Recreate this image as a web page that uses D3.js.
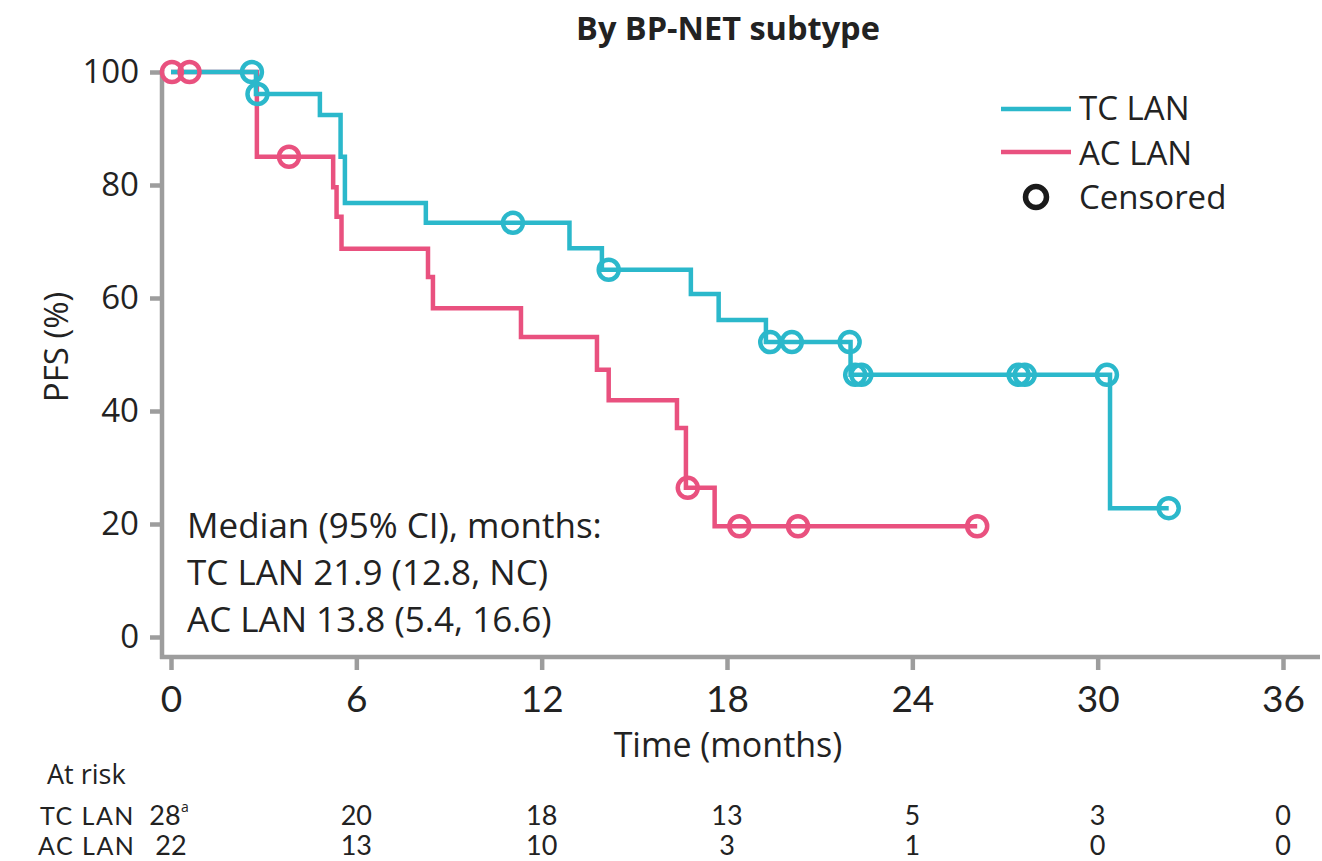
<!DOCTYPE html>
<html>
<head>
<meta charset="utf-8">
<script src="https://cdn.jsdelivr.net/npm/d3@7"></script>
<style>
  body { margin: 0; background: #fff; }
  text { font-family: "Open Sans", sans-serif; fill: #222; }
  .narrow { font-family: Lato, sans-serif; }
</style>
</head>
<body>
<script>
const WIDTH = 1322;
const HEIGHT = 861;

// tick values
const xTicks = [0, 6, 12, 18, 24, 30, 36];
const yTicks = [0, 20, 40, 60, 80, 100];

// TC LAN step curve (months, PFS %)
const tcTimes = [0, 2.75, 4.82, 5.49, 5.63, 8.25, 12.9, 13.95, 16.83, 17.73, 19.26, 22.0, 30.4, 32.3];
const tcSurv = [100, 96.1, 92.4, 85.0, 76.8, 73.3, 68.8, 65.0, 60.7, 56.1, 52.2, 46.4, 22.8, 22.8];
const tcCensorTimes = [2.62, 2.8, 11.07, 14.17, 19.4, 20.1, 21.97, 22.15, 22.35, 27.44, 27.64, 30.3, 32.3];
const tcCensorSurv = [100, 96.1, 73.3, 65.0, 52.2, 52.2, 52.2, 46.4, 46.4, 46.4, 46.4, 46.4, 22.8];

// AC LAN step curve
const acTimes = [0, 2.78, 5.25, 5.36, 5.52, 8.32, 8.48, 11.33, 13.79, 14.17, 16.38, 16.67, 17.6, 26.1];
const acSurv = [100, 85.0, 79.6, 74.4, 68.7, 63.7, 58.2, 53.1, 47.3, 41.9, 37.0, 26.4, 19.6, 19.6];
const acCensorTimes = [0.03, 0.6, 3.82, 16.73, 18.4, 20.3, 26.1];
const acCensorSurv = [100, 100, 85.0, 26.4, 19.6, 19.6, 19.6];

// numbers at risk
const riskTimes = [0, 6, 12, 18, 24, 30, 36];
const tcRisk = ["28", "20", "18", "13", "5", "3", "0"];
const acRisk = ["22", "13", "10", "3", "1", "0", "0"];

const medianLines = ["Median (95% CI), months:", "TC LAN 21.9 (12.8, NC)", "AC LAN 13.8 (5.4, 16.6)"];

const TC_COLOR = "#2bb8cb";
const AC_COLOR = "#e9517f";
const AXIS_COLOR = "#9d9d9d";

var svg = d3.select('body')
    .append('svg')
    .attr("width", WIDTH)
    .attr("height", HEIGHT);

var x = d3.scaleLinear().domain([0, 36]).range([171, 1283]);
var y = d3.scaleLinear().domain([0, 100]).range([637, 72]);

const yAxisX = 162;
const xAxisY = 657;

// title
svg.append("text")
    .attr("x", 728)
    .attr("y", 40)
    .attr("text-anchor", "middle")
    .attr("font-size", 32.5)
    .attr("font-weight", "bold")
    .text("By BP-NET subtype");

// y axis
var yAxis = svg.append("g")
    .attr("transform", "translate(" + yAxisX + ",0)")
    .call(d3.axisLeft(y).tickValues(yTicks).tickSize(12).tickPadding(11));
yAxis.select(".domain").remove();
yAxis.selectAll(".tick line").attr("stroke", AXIS_COLOR).attr("stroke-width", 4.5);
yAxis.selectAll(".tick text")
    .style("font-family", "'Open Sans', sans-serif")
    .attr("font-size", 33)
    .attr("fill", "#222");

svg.append("line")
    .attr("x1", yAxisX).attr("x2", yAxisX)
    .attr("y1", y(100) - 2).attr("y2", xAxisY + 2)
    .attr("stroke", AXIS_COLOR).attr("stroke-width", 4.5);

// x axis
var xAxis = svg.append("g")
    .attr("transform", "translate(0," + xAxisY + ")")
    .call(d3.axisBottom(x).tickValues(xTicks).tickSize(13).tickPadding(16));
xAxis.select(".domain").remove();
xAxis.selectAll(".tick line").attr("stroke", AXIS_COLOR).attr("stroke-width", 4.5);
xAxis.selectAll(".tick text")
    .style("font-family", "Lato, sans-serif")
    .attr("font-size", 37)
    .attr("fill", "#222");

svg.append("line")
    .attr("x1", yAxisX - 2).attr("x2", 1320)
    .attr("y1", xAxisY).attr("y2", xAxisY)
    .attr("stroke", AXIS_COLOR).attr("stroke-width", 4.5);

// axis titles
svg.append("text")
    .attr("x", 728)
    .attr("y", 757)
    .attr("text-anchor", "middle")
    .attr("font-size", 34)
    .text("Time (months)");

svg.append("text")
    .attr("transform", "translate(68,347) rotate(-90)")
    .attr("text-anchor", "middle")
    .attr("font-size", 33)
    .text("PFS (%)");

// curves
var line = d3.line()
    .x(d => x(d[0]))
    .y(d => y(d[1]))
    .curve(d3.curveStepAfter);

function drawCurve(times, surv, color) {
    svg.append("path")
        .datum(d3.zip(times, surv))
        .attr("d", line)
        .attr("fill", "none")
        .attr("stroke", color)
        .attr("stroke-width", 4.5)
        .attr("stroke-linejoin", "miter");
}

function drawCensors(times, surv, color) {
    svg.append("g")
        .selectAll("circle")
        .data(d3.zip(times, surv))
        .join("circle")
        .attr("cx", d => x(d[0]))
        .attr("cy", d => y(d[1]))
        .attr("r", 10)
        .attr("fill", "none")
        .attr("stroke", color)
        .attr("stroke-width", 4.5);
}

drawCurve(acTimes, acSurv, AC_COLOR);
drawCurve(tcTimes, tcSurv, TC_COLOR);
drawCensors(tcCensorTimes, tcCensorSurv, TC_COLOR);
drawCensors(acCensorTimes, acCensorSurv, AC_COLOR);

// legend
var legend = svg.append("g");
legend.append("line")
    .attr("x1", 1001).attr("x2", 1071).attr("y1", 109).attr("y2", 109)
    .attr("stroke", TC_COLOR).attr("stroke-width", 4.5);
legend.append("line")
    .attr("x1", 1001).attr("x2", 1071).attr("y1", 152).attr("y2", 152)
    .attr("stroke", AC_COLOR).attr("stroke-width", 4.5);
legend.append("circle")
    .attr("cx", 1036).attr("cy", 197).attr("r", 10.5)
    .attr("fill", "none").attr("stroke", "#1a1a1a").attr("stroke-width", 5.5);
legend.append("text").attr("x", 1079).attr("y", 120).attr("font-size", 33).text("TC LAN");
legend.append("text").attr("x", 1079).attr("y", 165).attr("font-size", 33).text("AC LAN");
legend.append("text").attr("x", 1079).attr("y", 209).attr("font-size", 33).text("Censored");

// median annotation
svg.append("g")
    .selectAll("text")
    .data(medianLines)
    .join("text")
    .attr("x", 187)
    .attr("y", (d, i) => 538 + i * 47)
    .attr("font-size", 35)
    .text(d => d);

// at risk table
svg.append("text").attr("x", 47).attr("y", 784).attr("font-size", 27).text("At risk");
svg.append("text").attr("class", "narrow").attr("x", 40).attr("y", 825)
    .attr("font-size", 25).attr("letter-spacing", 1.5).text("TC LAN");
svg.append("text").attr("class", "narrow").attr("x", 38).attr("y", 855)
    .attr("font-size", 25).attr("letter-spacing", 1.5).text("AC LAN");

svg.append("g")
    .selectAll("text")
    .data(d3.zip(riskTimes, tcRisk))
    .join("text")
    .attr("class", "narrow")
    .attr("x", (d, i) => i === 0 ? x(d[0]) - 6 : x(d[0]))
    .attr("y", 825)
    .attr("text-anchor", "middle")
    .attr("font-size", 27)
    .text(d => d[1]);

// footnote marker on the first TC count
svg.append("text")
    .attr("x", x(0) + 10)
    .attr("y", 812)
    .attr("font-size", 14)
    .text("a");

svg.append("g")
    .selectAll("text")
    .data(d3.zip(riskTimes, acRisk))
    .join("text")
    .attr("class", "narrow")
    .attr("x", d => x(d[0]))
    .attr("y", 855)
    .attr("text-anchor", "middle")
    .attr("font-size", 27)
    .text(d => d[1]);
</script>
</body>
</html>
